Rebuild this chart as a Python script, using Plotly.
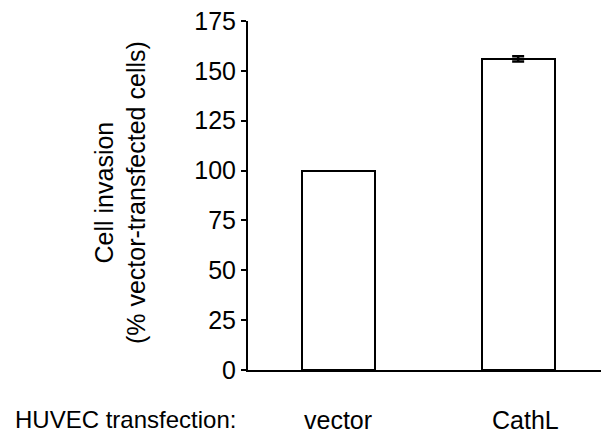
import plotly.graph_objects as go

categories = ["vector", "CathL"]
values = [100, 156]
errors = [0, 1.3]
y_ticks = [0, 25, 50, 75, 100, 125, 150, 175]
x_title = "HUVEC transfection:"
y_title = "Cell invasion<br>(% vector-transfected cells)"

FONT = "Liberation Sans, Arial, sans-serif"
FS = 25

xs = list(range(len(categories)))
fig = go.Figure()
fig.add_trace(go.Bar(
    x=xs,
    y=values,
    width=0.405,
    marker=dict(color="white", line=dict(color="black", width=2)),
    showlegend=False,
))
err_idx = [i for i, e in enumerate(errors) if e > 0]
fig.add_trace(go.Scatter(
    x=[xs[i] for i in err_idx],
    y=[values[i] for i in err_idx],
    mode="markers",
    marker=dict(size=1, color="rgba(0,0,0,0)"),
    error_y=dict(type="data", array=[errors[i] for i in err_idx], visible=True,
                 color="black", thickness=2.5, width=6),
    showlegend=False, hoverinfo="skip",
))

fig.update_layout(
    width=601, height=437,
    margin=dict(l=248, r=0, t=21, b=67),
    paper_bgcolor="white", plot_bgcolor="white",
    font=dict(family=FONT, size=FS, color="black"),
    bargap=0,
)
fig.update_xaxes(
    range=[-0.5, 1.46], showticklabels=False, ticks="", showgrid=False, zeroline=False,
    showline=True, linecolor="black", linewidth=2,
)
fig.update_yaxes(
    range=[0, 175], tickvals=y_ticks, ticktext=[str(v) for v in y_ticks],
    ticks="outside", ticklen=5, tickwidth=2, tickcolor="black",
    showline=True, linecolor="black", linewidth=2, showgrid=False, zeroline=False,
    tickfont=dict(family=FONT, size=FS), ticklabelstandoff=0,
)

for i, c in enumerate(categories):
    fig.add_annotation(x=i, y=-0.143, xref="x", yref="paper", text=c, showarrow=False,
                       xanchor="center", yanchor="middle", xshift=(0 if i == 0 else 7),
                       font=dict(family=FONT, size=FS))
fig.add_annotation(x=-0.667, y=-0.143, xref="paper", yref="paper", text=x_title, showarrow=False,
                   xanchor="left", yanchor="middle", font=dict(family=FONT, size=24))
fig.add_annotation(x=-0.3626, y=0.507, xref="paper", yref="paper", text=y_title, showarrow=False,
                   textangle=-90, xanchor="center", yanchor="middle", font=dict(family=FONT, size=FS))

fig.write_html("out.html")
